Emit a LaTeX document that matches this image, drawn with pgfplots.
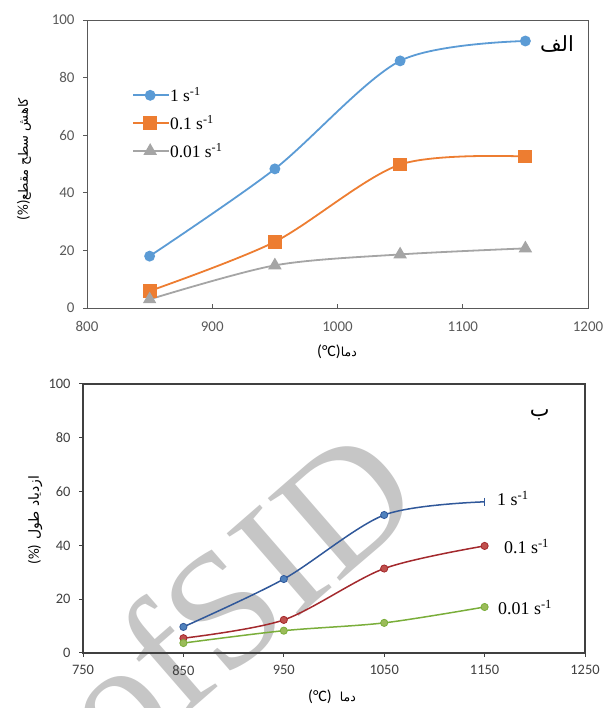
\documentclass[border=0pt]{standalone}
\usepackage{fontspec}
\setmainfont{Liberation Serif}
\newfontfamily\carlito{Carlito}
\newfontfamily\arabicfont[Script=Arabic]{DejaVu Sans}
\TeXXeTstate=1
\usepackage{pgfplots}
\pgfplotsset{compat=1.18}

\definecolor{xBlue}{HTML}{5B9BD5}
\definecolor{xOrange}{HTML}{ED7D31}
\definecolor{xGray}{HTML}{A5A5A5}
\definecolor{bBlue}{HTML}{30589A}
\definecolor{bRed}{HTML}{A3292D}
\definecolor{bGreen}{HTML}{7AAE3A}
\definecolor{fBlue}{HTML}{4F81BD}
\definecolor{fRed}{HTML}{C0504D}
\definecolor{fGreen}{HTML}{9BBB59}
\definecolor{tickGray}{HTML}{595959}
\definecolor{frameGray}{HTML}{595959}

\begin{document}
\begin{tikzpicture}[x=1bp,y=1bp]
\useasboundingbox (0,0) rectangle (604,708);

% watermark
\node[rotate=41, text=gray!45, inner sep=0, font=\fontsize{168}{168}\selectfont] (wm) at (290,156) {SID};
\node[rotate=41, text=gray!45, inner sep=0, anchor=base east, font=\fontsize{168}{168}\selectfont] at (wm.base west) {of\hspace{0.25em}};

% ---- top chart (الف)
\begin{axis}[
  at={(87bp,400bp)}, anchor=south west,
  scale only axis, width=501bp, height=288bp,
  xmin=800, xmax=1200, ymin=0, ymax=100,
  xtick={800,900,...,1200}, ytick={0,20,...,100},
  xtick pos=left, ytick pos=left,
  axis line style={draw=frameGray, line width=0.9bp},
  tick align=inside, major tick length=4bp,
  tick style={draw=frameGray, line width=0.8bp},
  ytick style={xshift=-4bp},
  /pgf/number format/assume math mode=true,
  /pgf/number format/set thousands separator={},
  tick label style={font=\carlito\fontsize{15}{15}\selectfont, text=tickGray},
  yticklabel style={xshift=-9bp},
  xticklabel style={yshift=-10bp},
  legend style={draw=none, fill=none, at={(0.09,0.77)}, anchor=north west,
    font=\fontsize{17.5}{17.5}\selectfont, row sep=10bp, inner sep=0pt,
    nodes={inner sep=1bp}},
  legend cell align=left,
  legend image code/.code={
    \draw[mark repeat=2, mark phase=2, #1] plot coordinates {(0bp,0bp) (17bp,0bp) (35bp,0bp)};
  },
]
\addplot[xBlue, line width=1.8bp, smooth, mark=*, mark size=4.5bp]
  coordinates {(850,18) (950,48.3) (1050,85.8) (1150,92.7)};
\addlegendentry{1 s\textsuperscript{-1}}
\addplot[xOrange, line width=1.8bp, smooth, mark=square*, mark size=6bp]
  coordinates {(850,5.9) (950,23) (1050,49.8) (1150,52.6)};
\addlegendentry{0.1 s\textsuperscript{-1}}
\addplot[xGray, line width=1.8bp, smooth, mark=triangle*, mark size=6bp]
  coordinates {(850,3) (950,14.8) (1050,18.6) (1150,20.7)};
\addlegendentry{0.01 s\textsuperscript{-1}}
\end{axis}

\node[font=\arabicfont\fontsize{21}{21}\selectfont] at (557,664) {\beginR الف\endR};
\node[rotate=90, inner sep=0] at (24,549) {{\carlito\fontsize{15}{15}\selectfont(\%)}{\arabicfont\fontsize{13}{13}\selectfont\beginR کاهش سطح مقطع\endR}};
\node[inner sep=0] at (337,356) {{\carlito\fontsize{16}{16}\selectfont(°C)}{\arabicfont\fontsize{12.5}{12.5}\selectfont\beginR دما\endR}};

% ---- bottom chart (ب)
\begin{axis}[
  at={(83bp,55bp)}, anchor=south west,
  scale only axis, width=502bp, height=269bp,
  xmin=750, xmax=1250, ymin=0, ymax=100,
  xtick={750,850,...,1250}, ytick={0,20,...,100},
  xtick pos=left, ytick pos=left,
  axis line style={draw=black!75, line width=1.2bp},
  tick align=outside, major tick length=4bp,
  tick style={draw=black!75, line width=1bp},
  /pgf/number format/assume math mode=true,
  /pgf/number format/set thousands separator={},
  tick label style={font=\carlito\fontsize{14.5}{14.5}\selectfont, text=black!75},
  yticklabel style={xshift=-5bp},
  xticklabel style={yshift=-5bp},
]
\addplot[bBlue, line width=1.5bp, smooth, mark=*, mark size=3.6bp,
  mark options={fill=fBlue, draw=bBlue, line width=0.8bp}, mark indices={1,2,3}]
  coordinates {(850,9.7) (950,27.5) (1050,51.3) (1150,56.2)};
\addplot[bBlue, line width=1.3bp, only marks, mark=|, mark size=4bp]
  coordinates {(1150,56.2)};
\addplot[bRed, line width=1.5bp, smooth, mark=*, mark size=3.6bp,
  mark options={fill=fRed, draw=bRed, line width=0.8bp}]
  coordinates {(850,5.5) (950,12.3) (1050,31.4) (1150,39.8)};
\addplot[bGreen, line width=1.5bp, smooth, mark=*, mark size=3.6bp,
  mark options={fill=fGreen, draw=bGreen, line width=0.8bp}]
  coordinates {(850,3.7) (950,8.3) (1050,11.2) (1150,17.1)};

\node[anchor=west, font=\fontsize{18}{18}\selectfont] at (axis cs:1159,57.5) {1 s\textsuperscript{-1}};
\node[anchor=west, font=\fontsize{18}{18}\selectfont] at (axis cs:1166,39.6) {0.1 s\textsuperscript{-1}};
\node[anchor=west, font=\fontsize{18}{18}\selectfont] at (axis cs:1160,17) {0.01 s\textsuperscript{-1}};
\node[font=\arabicfont\fontsize{21}{21}\selectfont] at (axis cs:1205,88.5) {\beginR ب\endR};
\end{axis}

\node[rotate=90, inner sep=0] at (35,188) {{\carlito\fontsize{15}{15}\selectfont(\%)}\hspace{5bp}{\arabicfont\fontsize{14}{14}\selectfont\beginR ازدیاد طول\endR}};
\node[inner sep=0] at (332,11) {{\carlito\fontsize{16}{16}\selectfont(°C)}\hspace{8bp}{\arabicfont\fontsize{12.5}{12.5}\selectfont\beginR دما\endR}};
\end{tikzpicture}
\end{document}
